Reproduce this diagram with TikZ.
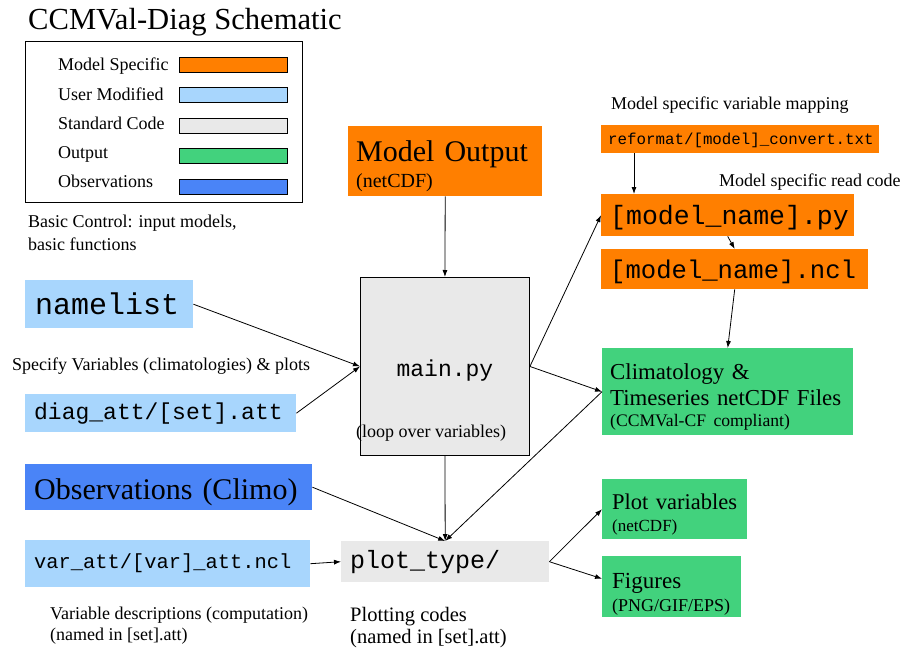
\documentclass[tikz,border=0pt]{standalone}
\usepackage{fontspec}
\setmainfont{Liberation Serif}
\setmonofont{Liberation Mono}
\usetikzlibrary{arrows.meta}

\definecolor{modelorange}{RGB}{255,127,0}
\definecolor{userblue}{RGB}{168,214,253}
\definecolor{codegray}{RGB}{233,233,233}
\definecolor{outgreen}{RGB}{66,210,125}
\definecolor{obsblue}{RGB}{74,132,247}

\begin{document}
\begin{tikzpicture}[x=1pt, y=-1pt,
		every node/.style={inner sep=0pt},
		notetext/.style={font=\fontsize{18}{21}\selectfont, align=left, anchor=base west},
		box/.style={anchor=north west, inner xsep=8pt, inner ysep=0pt, align=left},
		swatch/.style={draw=black, line width=0.8pt, minimum width=108pt, minimum height=15pt},
		conn/.style={-{Latex[length=7pt, width=5pt]}, line width=0.8pt}]

		\useasboundingbox (0,0) rectangle (901,650);

		\pgfmathsetmacro{\legrowstep}{30.5}
		\pgfmathsetmacro{\legtextstep}{29}

		% title and legend
		\node[anchor=base west, font=\fontsize{30.6}{34}\selectfont] (title) at (28, 30) {CCMVal-Diag Schematic};
		\node[draw=black, line width=0.9pt, anchor=north west, minimum width=277pt, minimum height=161pt] (legend) at (25, 41) {};
		\foreach \lname/\lcol [count=\i from 0] in {Model Specific/modelorange, User Modified/userblue, Standard Code/codegray, Output/outgreen, Observations/obsblue}
		{
			\node[notetext] (leglabel\i) at (58, 71 + \i * \legtextstep) {\lname};
			\node[swatch, fill=\lcol] (legswatch\i) at (233, 64.5 + \i * \legrowstep) {};
		}

		% input boxes
		\node[box, fill=userblue, minimum width=168pt, minimum height=48pt, text width=152pt,
			font=\ttfamily\fontsize{30}{34}\selectfont] (namelist) at (25, 280) {\hspace*{2pt}namelist};
		\node[box, fill=userblue, minimum width=271pt, minimum height=38pt, text width=255pt,
			font=\ttfamily\fontsize{23}{26}\selectfont] (diagatt) at (25, 394) {\hspace*{1pt}diag\_att/[set].att};
		\node[box, fill=obsblue, minimum width=287pt, minimum height=46pt, text width=271pt,
			font=\fontsize{30}{34}\selectfont] (obs) at (25, 464) {\hspace*{1pt}\rule{0pt}{30pt}Observations (Climo)};
		\node[box, fill=userblue, minimum width=285pt, minimum height=47pt, text width=269pt,
			font=\ttfamily\fontsize{20.4}{24}\selectfont] (varatt) at (25, 540) {\hspace*{1pt}var\_att/[var]\_att.ncl};

		% standard code
		\node[draw=black, line width=0.9pt, fill=codegray, anchor=north west, minimum width=169pt, minimum height=178pt,
			font=\ttfamily\fontsize{23}{26}\selectfont] (main) at (360, 277) {\rule{0pt}{24pt}main.py};
		\node[box, fill=codegray, minimum width=208pt, minimum height=41pt, text width=192pt,
			font=\ttfamily\fontsize{25}{28}\selectfont] (plottype) at (341, 541) {\hspace*{1pt}plot\_type/\rule[-3pt]{0pt}{1pt}};

		% model specific
		\node[box, fill=modelorange, minimum width=194pt, minimum height=70pt, text width=178pt,
			font=\fontsize{30}{34}\selectfont] (modelout) at (348, 126) {\rule{0pt}{30pt}Model Output\\[-8pt]\fontsize{20}{26}\selectfont (netCDF)};
		\node[box, fill=modelorange, inner xsep=7pt, minimum width=278pt, minimum height=28pt, text width=264pt,
			font=\ttfamily\fontsize{15.8}{18}\selectfont] (reformat) at (601, 125) {reformat/[model]\_convert.txt\rule{0pt}{14pt}};
		\node[box, fill=modelorange, minimum width=253pt, minimum height=42pt, text width=237pt,
			font=\ttfamily\fontsize{26.5}{30}\selectfont] (modelpy) at (601, 194) {\hspace*{1pt}\rule{0pt}{24pt}{[}model\_name].py};
		\node[box, fill=modelorange, minimum width=267pt, minimum height=40pt, text width=251pt,
			font=\ttfamily\fontsize{25.6}{29}\selectfont] (modelncl) at (601, 249) {\hspace*{1pt}\rule{0pt}{23pt}{[}model\_name].ncl};

		% output
		\node[box, fill=outgreen, minimum width=251pt, minimum height=87pt, text width=235pt,
			font=\fontsize{22.8}{26}\selectfont] (clim) at (602, 348) {\rule{0pt}{26pt}Climatology \&\\Timeseries netCDF Files\\[-5pt]\fontsize{17.6}{22}\selectfont (CCMVal-CF compliant)};
		\node[box, fill=outgreen, minimum width=145pt, minimum height=60pt, text width=129pt,
			font=\fontsize{22.5}{26}\selectfont] (plotvar) at (602, 479) {\hspace*{2pt}\rule{0pt}{26pt}Plot variables\\[-4pt]\hspace*{2pt}\fontsize{17}{22}\selectfont (netCDF)};
		\node[box, fill=outgreen, minimum width=139pt, minimum height=61pt, text width=123pt,
			font=\fontsize{23}{26}\selectfont] (figs) at (602, 556) {\hspace*{2pt}\rule{0pt}{30pt}Figures\\[-3pt]\hspace*{2pt}\fontsize{18}{23}\selectfont (PNG/GIF/EPS)};

		% notes
		\node[notetext, font=\fontsize{18}{23}\selectfont] (basicnote) at (28, 250) {Basic Control: input models,\\basic functions};
		\node[notetext] (specifynote) at (12, 370) {Specify Variables (climatologies) \& plots};
		\node[notetext] (loopnote) at (356, 437) {(loop over variables)};
		\node[notetext] (mapnote) at (611, 110) {Model specific variable mapping};
		\node[notetext] (readnote) at (719, 186) {Model specific read code};
		\node[notetext] (varnote) at (50, 640) {Variable descriptions (computation)\\(named in [set].att)};
		\node[notetext, font=\fontsize{20.5}{22}\selectfont] (plotnote) at (350, 643) {Plotting codes\\(named in [set].att)};

		% draw connectors
		\draw[conn] (modelout.south) -- (main.north);
		\draw[conn] (namelist.east) -- (main.west);
		\draw[conn] (diagatt.east) -- (main.west);
		\draw[conn] (main.east) -- (modelpy.west);
		\draw[conn] (main.east) -- (clim.west);
		\draw[conn] ([xshift=33pt]reformat.south west) -- ([xshift=33pt]modelpy.north west);
		\draw[conn] (modelpy.south) -- (modelncl.north);
		\draw[conn] (modelncl.south) -- (clim.north);
		\draw[conn] (main.south) -- (plottype.north);
		\draw[conn] (obs.east) -- (plottype.north);
		\draw[conn] (clim.west) -- (plottype.north);
		\draw[conn] (varatt.east) -- (plottype.west);
		\draw[conn] (plottype.east) -- (plotvar.west);
		\draw[conn] (plottype.east) -- ([yshift=8pt]figs.west);

\end{tikzpicture}
\end{document}
